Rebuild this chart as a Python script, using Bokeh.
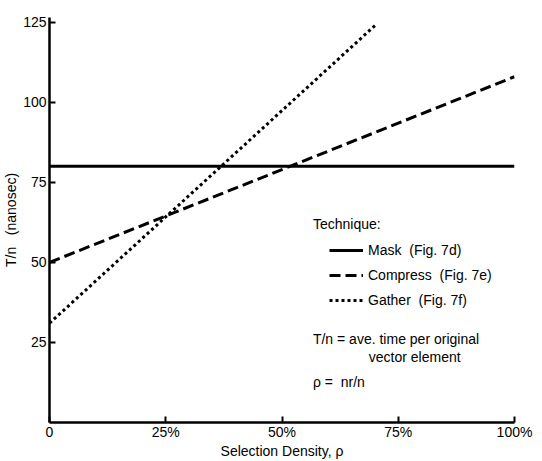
from bokeh.plotting import figure
from bokeh.models import Range1d, FixedTicker, Label, Legend, LegendItem
from bokeh.embed import file_html
from bokeh.resources import INLINE

# ---- data ----
density = [0, 100]             # selection density, %
mask_time = [80, 80]           # Mask (Fig. 7d)
compress_time = [50, 108]      # Compress (Fig. 7e)
gather_density = [0, 70]
gather_time = [31, 124]        # Gather (Fig. 7f)

x_ticks = [0, 25, 50, 75, 100]
x_tick_labels = ["0", "25%", "50%", "75%", "100%"]
y_ticks = [25, 50, 75, 100, 125]

FONT = "Liberation Sans"
FS = "14px"

p = figure(width=542, height=461, output_backend="svg", toolbar_location=None,
           x_range=Range1d(0, 100), y_range=Range1d(0, 126.5),
           min_border_left=46, min_border_right=28, min_border_top=17,
           min_border_bottom=38)
p.outline_line_color = None
p.grid.visible = False
p.background_fill_color = "white"
p.border_fill_color = "white"

for ax in (p.xaxis[0], p.yaxis[0]):
    ax.axis_line_width = 2.5
    ax.axis_line_color = "black"
    ax.major_tick_line_width = 2
    ax.major_tick_line_color = "black"
    ax.major_tick_in = 6
    ax.major_tick_out = 0
    ax.minor_tick_line_color = None
    ax.major_label_text_font = FONT
    ax.major_label_text_font_size = FS
    ax.major_label_text_color = "black"
    ax.axis_label_text_font = FONT
    ax.axis_label_text_font_size = FS
    ax.axis_label_text_font_style = "normal"
    ax.axis_label_text_color = "black"

p.xaxis.ticker = FixedTicker(ticks=x_ticks)
p.xaxis.major_label_overrides = dict(zip(x_ticks, x_tick_labels))
p.xaxis.axis_label = "Selection Density, \u03c1"
p.xaxis.major_label_standoff = 1
p.xaxis.axis_label_standoff = 0

p.yaxis.ticker = FixedTicker(ticks=y_ticks)
p.yaxis.axis_label = "T/n\u00a0\u00a0 (nanosec)"
p.yaxis.major_label_standoff = 3
p.yaxis.axis_label_standoff = 1

r_mask = p.line(density, mask_time, line_color="black", line_width=3)
r_comp = p.line(density, compress_time, line_color="black", line_width=3,
                line_dash="11 5")
r_gath = p.line(gather_density, gather_time, line_color="black", line_width=3,
                line_dash="3 3")

legend = Legend(items=[
    LegendItem(label="Mask \u00a0(Fig. 7d)", renderers=[r_mask]),
    LegendItem(label="Compress \u00a0(Fig. 7e)", renderers=[r_comp]),
    LegendItem(label="Gather \u00a0(Fig. 7f)", renderers=[r_gath]),
], location=(280, 112))
legend.background_fill_alpha = 0
legend.border_line_color = None
legend.padding = 0
legend.margin = 0
legend.spacing = 5
legend.glyph_width = 34
legend.glyph_height = 20
legend.label_height = 20
legend.label_standoff = 5
legend.label_text_font = FONT
legend.label_text_font_size = FS
legend.label_text_color = "black"
p.add_layout(legend, "center")

# text annotations (pixel positions converted to data coordinates)
def dx(px):
    return (px - 48) / 4.66

def dy(py):
    return (421 - py) / (404 / 126.5)

notes = [
    ("Technique:", 312, 223),
    ("T/n = ave. time per original", 312, 338),
    ("vector element", 368, 356),
    ("\u03c1 = \u00a0nr/n", 312, 381),
]
for txt, px, py in notes:
    p.add_layout(Label(x=dx(px), y=dy(py), text=txt, text_font=FONT,
                       text_font_size=FS, text_color="black",
                       text_align="left", text_baseline="middle"))

open("out.html", "w").write(file_html(p, INLINE))
